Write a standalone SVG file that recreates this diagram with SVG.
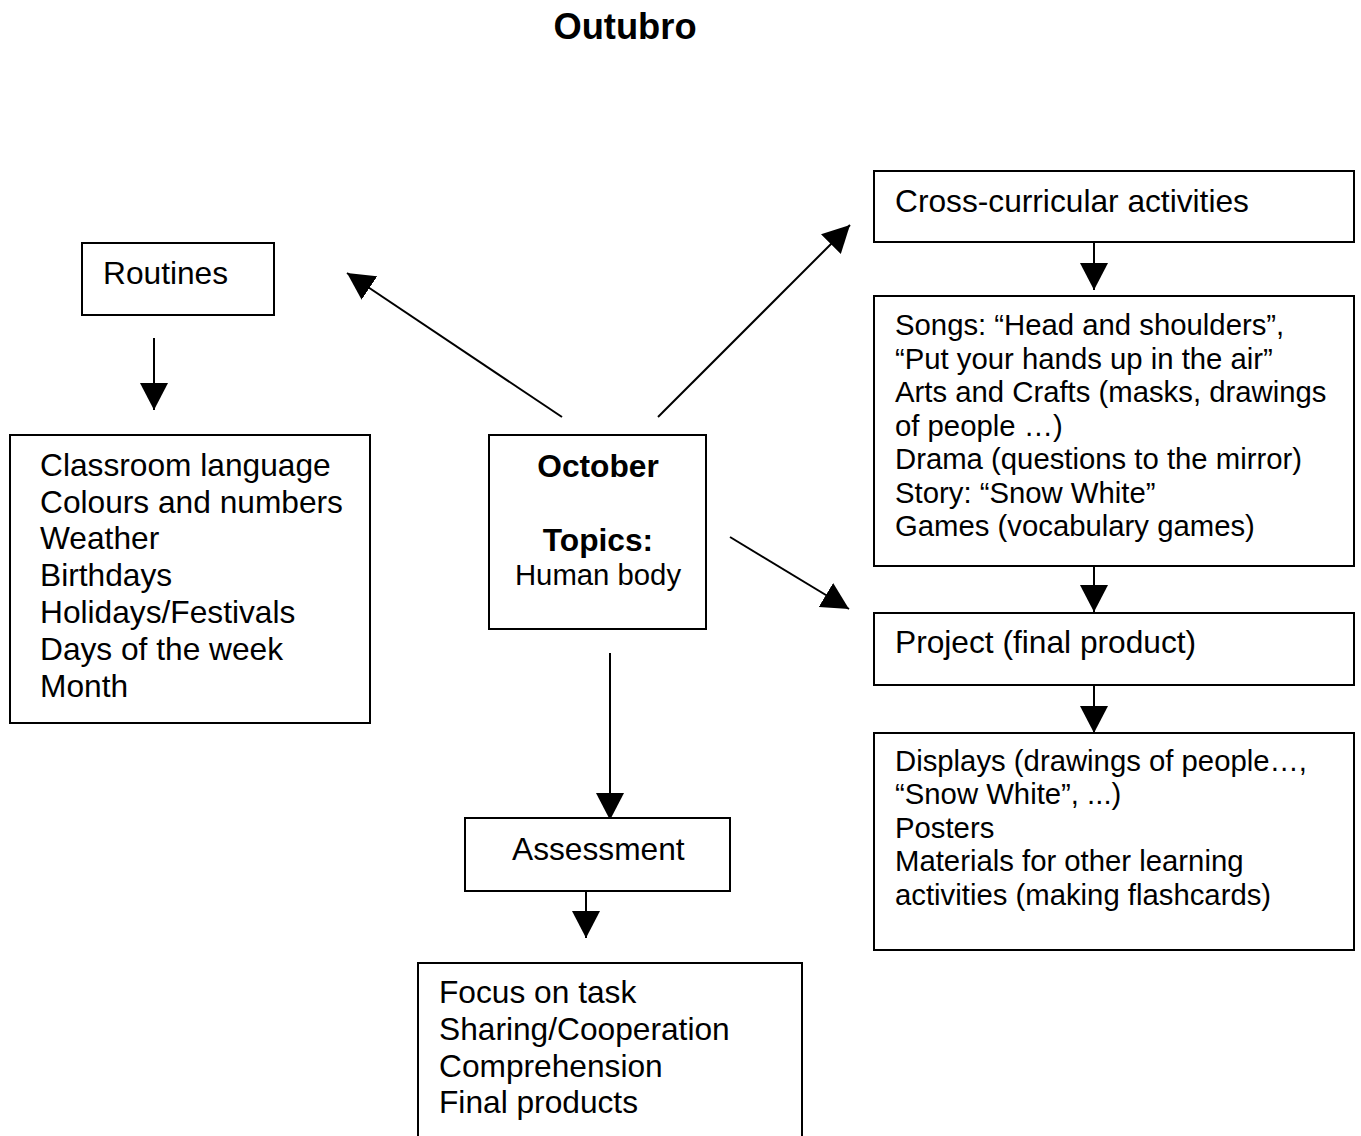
<svg xmlns="http://www.w3.org/2000/svg" width="1361" height="1136" viewBox="0 0 1361 1136">
<style>
.box{fill:#fff;stroke:#000;stroke-width:2}
.t{font-family:"Liberation Sans",Arial,sans-serif;font-size:31.7px;fill:#000}
.s{font-family:"Liberation Sans",Arial,sans-serif;font-size:29.3px;fill:#000}
.b{font-family:"Liberation Sans",Arial,sans-serif;font-size:31.7px;font-weight:bold;fill:#000}
.c{stroke:#000;stroke-width:2;fill:none;marker-end:url(#ah)}
</style>
<defs>
<marker id="ah" viewBox="0 0 27 28" refX="27" refY="14" markerWidth="27" markerHeight="28" markerUnits="userSpaceOnUse" orient="auto">
<path d="M0,0 L27,14 L0,28 z" fill="#000"/>
</marker>
</defs>
<rect width="1361" height="1136" fill="#fff"/>
<text x="625" y="39" text-anchor="middle" style="font-family:'Liberation Sans',Arial,sans-serif;font-size:36.3px;font-weight:bold">Outubro</text>
<g id="connectors">
<line class="c" x1="154" y1="338" x2="154" y2="410"/>
<line class="c" x1="562" y1="417" x2="347" y2="273"/>
<line class="c" x1="658" y1="417" x2="850" y2="225"/>
<line class="c" x1="730" y1="537" x2="849" y2="609"/>
<line class="c" x1="610" y1="653" x2="610" y2="820"/>
<line class="c" x1="586" y1="891" x2="586" y2="938"/>
<line class="c" x1="1094" y1="242" x2="1094" y2="290"/>
<line class="c" x1="1094" y1="566" x2="1094" y2="612"/>
<line class="c" x1="1094" y1="685" x2="1094" y2="733"/>
</g>
<g id="routines">
<rect class="box" x="82" y="243" width="192" height="72"/>
<text class="t" x="103" y="284">Routines</text>
</g>
<g id="routines-list">
<rect class="box" x="10" y="435" width="360" height="288"/>
<text class="t" x="40" y="476">Classroom language</text>
<text class="t" x="40" y="513">Colours and numbers</text>
<text class="t" x="40" y="549">Weather</text>
<text class="t" x="40" y="586">Birthdays</text>
<text class="t" x="40" y="623">Holidays/Festivals</text>
<text class="t" x="40" y="660">Days of the week</text>
<text class="t" x="40" y="697">Month</text>
</g>
<g id="october">
<rect class="box" x="489" y="435" width="217" height="194"/>
<text class="b" x="598" y="477" text-anchor="middle">October</text>
<text class="b" x="598" y="551" text-anchor="middle">Topics:</text>
<text class="s" x="598" y="585" text-anchor="middle">Human body</text>
</g>
<g id="assessment">
<rect class="box" x="465" y="818" width="265" height="73"/>
<text class="t" x="512" y="860">Assessment</text>
</g>
<g id="assessment-list">
<rect class="box" x="418" y="963" width="384" height="190"/>
<text class="t" x="439" y="1003">Focus on task</text>
<text class="t" x="439" y="1040">Sharing/Cooperation</text>
<text class="t" x="439" y="1077">Comprehension</text>
<text class="t" x="439" y="1113">Final products</text>
</g>
<g id="cross">
<rect class="box" x="874" y="171" width="480" height="71"/>
<text class="t" x="895" y="212">Cross-curricular activities</text>
</g>
<g id="activities">
<rect class="box" x="874" y="296" width="480" height="270"/>
<text class="s" x="895" y="335">Songs: “Head and shoulders”,</text>
<text class="s" x="895" y="369">“Put your hands up in the air”</text>
<text class="s" x="895" y="402">Arts and Crafts (masks, drawings</text>
<text class="s" x="895" y="436">of people …)</text>
<text class="s" x="895" y="469">Drama (questions to the mirror)</text>
<text class="s" x="895" y="503">Story: “Snow White”</text>
<text class="s" x="895" y="536">Games (vocabulary games)</text>
</g>
<g id="project">
<rect class="box" x="874" y="613" width="480" height="72"/>
<text class="t" x="895" y="653">Project (final product)</text>
</g>
<g id="displays">
<rect class="box" x="874" y="733" width="480" height="217"/>
<text class="s" x="895" y="771">Displays (drawings of people…,</text>
<text class="s" x="895" y="804">“Snow White”, ...)</text>
<text class="s" x="895" y="838">Posters</text>
<text class="s" x="895" y="871">Materials for other learning</text>
<text class="s" x="895" y="905">activities (making flashcards)</text>
</g>
</svg>
